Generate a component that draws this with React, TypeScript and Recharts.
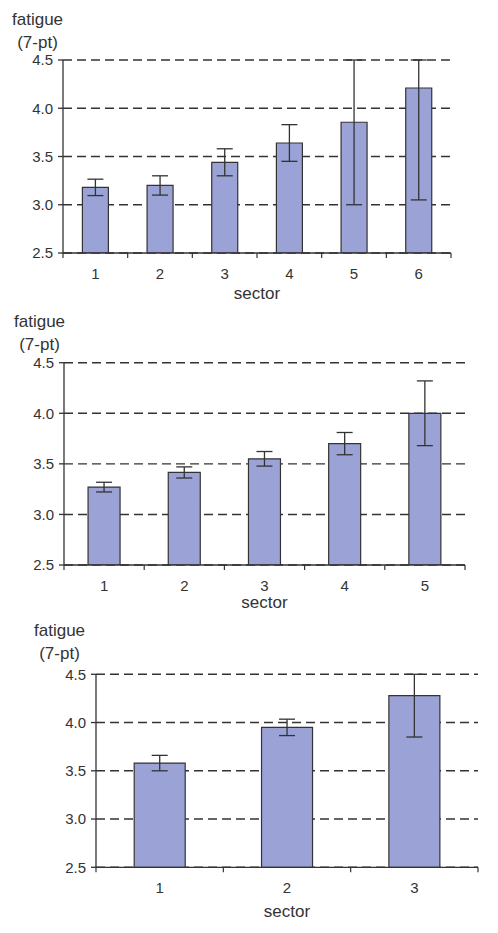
import React from 'react';
import { BarChart, Bar, XAxis, YAxis, CartesianGrid, ErrorBar } from 'recharts';

// top panel: six sectors
const sectors6 = ['1', '2', '3', '4', '5', '6'];
const fatigue6 = [3.18, 3.2, 3.44, 3.64, 3.855, 4.21];
const err6 = [0.085, 0.1, 0.14, 0.19, 0.855, 1.16];

// middle panel: five sectors
const sectors5 = ['1', '2', '3', '4', '5'];
const fatigue5 = [3.27, 3.415, 3.55, 3.7, 4.0];
const err5 = [0.048, 0.055, 0.072, 0.11, 0.32];

// bottom panel: three sectors
const sectors3 = ['1', '2', '3'];
const fatigue3 = [3.58, 3.95, 4.28];
const err3 = [0.08, 0.085, 0.43];

const yTicks = [2.5, 3.0, 3.5, 4.0, 4.5];
const Y_MIN = 2.5;
const Y_MAX = 4.5;

const FONT = '"Liberation Sans", Arial, sans-serif';
const INK = '#333';
const BAR_FILL = '#9BA3D6';
const TICK_SIZE = 5;
const TICK_MARGIN = 10;
const Y_AXIS_W = 50;

interface PanelProps {
  sectors: string[];
  values: number[];
  errors: number[];
  top: number;
  height: number;
  margin: { top: number; right: number; bottom: number; left: number };
  titleLeft: number;
  titleTop: number;
  sectorTop: number;
}

const Panel: React.FC<PanelProps> = ({ sectors, values, errors, top, height, margin, titleLeft, titleTop, sectorTop }) => {
  const data = sectors.map((s, i) => ({ sector: s, fatigue: values[i], err: errors[i] }));
  const plotLeft = margin.left + Y_AXIS_W;
  const plotRight = 498 - margin.right;
  const band = (plotRight - plotLeft) / sectors.length;

  // category label plus tick marks on the category boundaries (Excel style)
  const SectorTick = (props: any) => {
    const { x, y, payload, index } = props;
    const axisY = y - TICK_SIZE - TICK_MARGIN;
    const last = index === sectors.length - 1;
    return (
      <g>
        <line x1={x - band / 2} x2={x - band / 2} y1={axisY} y2={axisY + TICK_SIZE} stroke={INK} strokeWidth={1.2} />
        {last && <line x1={x + band / 2} x2={x + band / 2} y1={axisY} y2={axisY + TICK_SIZE} stroke={INK} strokeWidth={1.2} />}
        <text x={x} y={y} dy="0.71em" textAnchor="middle" fill={INK} fontSize={15} fontFamily={FONT}>
          {payload.value}
        </text>
      </g>
    );
  };

  // error bars stop at the top of the value axis, like the original
  const errRange = (d: { fatigue: number; err: number }) => [
    Math.min(d.err, d.fatigue - Y_MIN),
    Math.min(d.err, Y_MAX - d.fatigue),
  ];

  return (
    <div style={{ position: 'absolute', left: 0, top, width: 498, height }}>
      <div style={{ position: 'absolute', left: titleLeft, top: titleTop, fontFamily: FONT, fontSize: 17, color: INK, lineHeight: '23px', textAlign: 'center' }}>
        fatigue<br />(7-pt)
      </div>
      <BarChart width={498} height={height} data={data} margin={margin} barCategoryGap="30%">
        <CartesianGrid vertical={false} stroke={INK} strokeWidth={1.4} strokeDasharray="9 5" />
        <XAxis dataKey="sector" type="category" tickLine={false} stroke={INK} strokeWidth={1.3}
          height={30} tickSize={TICK_SIZE} tickMargin={TICK_MARGIN} tick={<SectorTick />} interval={0} />
        <YAxis domain={[Y_MIN, Y_MAX]} ticks={yTicks} allowDataOverflow width={Y_AXIS_W} tickSize={5} tickMargin={5}
          tickFormatter={(v: number) => v.toFixed(1)} stroke={INK} strokeWidth={1.3}
          tick={{ fill: INK, fontSize: 15, fontFamily: FONT }} />
        <Bar dataKey="fatigue" fill={BAR_FILL} stroke={INK} strokeWidth={1.2} isAnimationActive={false}>
          <ErrorBar dataKey={errRange} width={8} stroke={INK} strokeWidth={1.3} />
        </Bar>
      </BarChart>
      <div style={{ position: 'absolute', left: plotLeft, width: plotRight - plotLeft, top: sectorTop, textAlign: 'center', fontFamily: FONT, fontSize: 17, color: INK }}>
        sector
      </div>
    </div>
  );
};

export default function App() {
  return (
    <div style={{ position: 'absolute', left: 0, top: 0, width: 498, height: 933, background: '#fff' }}>
      <Panel sectors={sectors6} values={fatigue6} errors={err6} top={0} height={310}
        margin={{ top: 60, right: 47, bottom: 27, left: 13 }} titleLeft={12} titleTop={8} sectorTop={284} />
      <Panel sectors={sectors5} values={fatigue5} errors={err5} top={310} height={300}
        margin={{ top: 52.7, right: 33, bottom: 15, left: 14 }} titleLeft={14} titleTop={0} sectorTop={283} />
      <Panel sectors={sectors3} values={fatigue3} errors={err3} top={610} height={323}
        margin={{ top: 64.3, right: 20, bottom: 35.7, left: 46 }} titleLeft={34} titleTop={9} sectorTop={292} />
    </div>
  );
}
